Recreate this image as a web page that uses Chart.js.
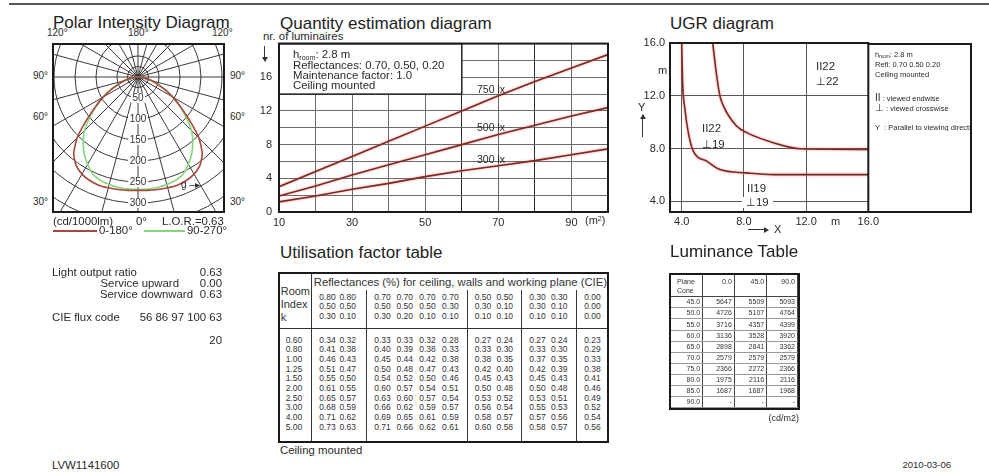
<!DOCTYPE html>
<html>
<head>
<meta charset="utf-8">
<script src="https://cdn.jsdelivr.net/npm/chart.js@4.4.0/dist/chart.umd.min.js"></script>
<style>
html, body { margin: 0; padding: 0; background: #fff; }
#page { position: relative; width: 989px; height: 472px; overflow: hidden; font-family: 'Liberation Sans', Arial, sans-serif; color: #2a2a2a; }
.t { position: absolute; white-space: nowrap; line-height: 1; }
.h { font-size: 17px; color: #222; }
.s { font-size: 11.4px; }
canvas { position: absolute; }
.box { position: absolute; box-sizing: border-box; border: 2px solid #1a1a1a; }
.ln { position: absolute; background: #333; }
sub { font-size: 0.62em; vertical-align: -0.25em; line-height: 0; }
sup { font-size: 0.62em; vertical-align: 0.5em; line-height: 0; }
table { border-collapse: collapse; table-layout: fixed; }
td { padding: 0; vertical-align: top; white-space: nowrap; overflow: hidden; color: #333; }
table.uf td { font-size: 8.5px; line-height: 9.65px; padding-left: 7px; overflow: visible; }
table.uf td.g { border-left: 1px solid #333; }
table.uf td.hv { padding-top: 2.5px; border-bottom: 1.5px solid #333; }
table.uf td.bv { padding-top: 7.2px; }
table.uf td.room { font-size: 11px; line-height: 12.7px; padding: 11.3px 0 0 0.7px; border-right: 1px solid #333; border-bottom: 1.5px solid #333; }
table.uf td.refl { font-size: 11.3px; line-height: 16px; padding-left: 1.6px; overflow: hidden; }
table.uf td.ri { text-align: right; padding: 7.2px 9px 0 0; border-right: 1px solid #333; }
table.lum td { font-size: 7px; text-align: right; padding: 0 2px 0 0; border-right: 1px solid #444; border-bottom: 1px solid #999; vertical-align: middle; line-height: 8px; }
table.lum tr.hd td { vertical-align: top; padding-top: 3.5px; border-bottom: 1px solid #444; }
table.lum td.pc { text-align: left; padding-left: 6px; line-height: 8.7px; }
</style>
</head>
<body>
<div id="page">
  <div class="ln" style="left:9px;top:3px;width:980px;height:1.6px;background:#555"></div>

  <!-- Polar Intensity Diagram -->
  <div class="t h" style="left:53px;top:14px">Polar Intensity Diagram</div>
  <div class="t" style="left:47px;top:28px;font-size:10px">120°</div>
  <div class="t" style="left:128px;top:28px;font-size:10px">180°</div>
  <div class="t" style="left:212px;top:28px;font-size:10px">120°</div>
  <div class="t" style="left:33px;top:71px;font-size:10px">90°</div>
  <div class="t" style="left:33px;top:112px;font-size:10px">60°</div>
  <div class="t" style="left:33px;top:197px;font-size:10px">30°</div>
  <div class="t" style="left:230px;top:71px;font-size:10px">90°</div>
  <div class="t" style="left:230px;top:112px;font-size:10px">60°</div>
  <div class="t" style="left:230px;top:197px;font-size:10px">30°</div>
  <div style="position:absolute;left:52px;top:43px;width:173px;height:170px;overflow:hidden">
    <canvas id="polar" width="336" height="336" style="left:-82px;top:-134px"></canvas>
    <div class="t" style="left:129px;top:137px;font-size:10px">g ‒▸</div>
  </div>
  <div class="box" style="left:52px;top:43px;width:173px;height:170px"></div>
  <div class="t" style="left:53px;top:215.5px;font-size:11.4px">(cd/1000lm)</div>
  <div class="t" style="left:136px;top:215.5px;font-size:11.4px">0°</div>
  <div class="t" style="left:162px;top:215.5px;font-size:11.4px">L.O.R.=0.63</div>
  <div class="ln" style="left:53px;top:230px;width:44px;height:1.6px;background:#a8473c"></div>
  <div class="t" style="left:99px;top:225px;font-size:11.4px">0-180°</div>
  <div class="ln" style="left:144px;top:230px;width:41px;height:1.6px;background:#86d47e"></div>
  <div class="t" style="left:187px;top:225px;font-size:11.4px">90-270°</div>

  <!-- Quantity estimation diagram -->
  <div class="t h" style="left:280px;top:15px">Quantity estimation diagram</div>
  <div class="t" style="left:263px;top:30.5px;font-size:11.4px">nr. of luminaires</div>
  <div class="ln" style="left:264px;top:46px;width:1px;height:12px"></div>
  <div style="position:absolute;left:261.5px;top:57px;width:0;height:0;border-left:3px solid transparent;border-right:3px solid transparent;border-top:5px solid #333"></div>
  <canvas id="qty" width="360" height="200" style="left:255px;top:30px"></canvas>
  <div class="t" style="left:293px;top:49px;font-size:11.4px">h<sub>room</sub>: 2.8 m</div>
  <div class="t" style="left:293px;top:59.5px;font-size:11.4px">Reflectances: 0.70, 0.50, 0.20</div>
  <div class="t" style="left:293px;top:69.5px;font-size:11.4px">Maintenance factor: 1.0</div>
  <div class="t" style="left:293px;top:80px;font-size:11.4px">Ceiling mounted</div>
  <div class="t" style="left:477px;top:83.5px;font-size:10.5px">750 lx</div>
  <div class="t" style="left:477px;top:122px;font-size:10.5px">500 lx</div>
  <div class="t" style="left:477px;top:154px;font-size:10.5px">300 lx</div>
  <div class="t" style="left:585px;top:215px;font-size:11px">(m<sup>2</sup>)</div>

  <!-- UGR diagram -->
  <div class="t h" style="left:670px;top:14.5px">UGR diagram</div>
  <canvas id="ugr" width="260" height="200" style="left:630px;top:30px"></canvas>
  <div class="t" style="left:658px;top:64.5px;font-size:11px">m</div>
  <div class="t" style="left:638px;top:101.5px;font-size:11px">Y</div>
  <div style="position:absolute;left:639.5px;top:114px;width:0;height:0;border-left:3px solid transparent;border-right:3px solid transparent;border-bottom:5px solid #333"></div>
  <div class="ln" style="left:642px;top:118px;width:1px;height:19px"></div>
  <div class="t" style="left:831px;top:215.5px;font-size:11px">m</div>
  <div class="ln" style="left:748px;top:229px;width:17px;height:1px"></div>
  <div style="position:absolute;left:764px;top:226.5px;width:0;height:0;border-top:3px solid transparent;border-bottom:3px solid transparent;border-left:5px solid #333"></div>
  <div class="t" style="left:774px;top:223.5px;font-size:11px">X</div>
  <div class="t" style="left:816px;top:61px;font-size:11.4px">II22</div>
  <div class="t" style="left:816px;top:76px;font-size:11.4px">⊥22</div>
  <div class="t" style="left:702px;top:122.5px;font-size:11.4px">II22</div>
  <div class="t" style="left:702px;top:138.5px;font-size:11.4px">⊥19</div>
  <div class="t" style="left:747px;top:182.5px;font-size:11.4px">II19</div>
  <div class="t" style="left:742px;top:196.5px;font-size:11.4px;background:#fff;padding:0 4px">⊥19</div>
  <div class="box" style="left:867px;top:42.5px;width:105px;height:170px;border-left:none"></div>
  <div class="t" style="left:875px;top:51px;font-size:7.5px">h<sub>room</sub>: 2.8 m</div>
  <div class="t" style="left:875px;top:60.5px;font-size:7.5px">Refl: 0.70 0.50 0.20</div>
  <div class="t" style="left:875px;top:70.5px;font-size:7.5px">Ceiling mounted</div>
  <div class="t" style="left:875px;top:93px;font-size:7.5px"><span style="font-size:10px">II</span> : viewed endwise</div>
  <div class="t" style="left:875px;top:103px;font-size:7.5px"><span style="font-size:10px">⊥</span> : viewed crosswise</div>
  <div class="t" style="left:875px;top:123.5px;font-size:7.5px;width:95px;overflow:hidden">Y&nbsp; : Parallel to viewing direction</div>

  <!-- Utilisation factor table -->
  <div class="t h" style="left:280px;top:244px">Utilisation factor table</div>
  <div class="box" id="ufBox" style="left:278px;top:272px;width:331px;height:171px"></div>
  <div class="t" style="left:280px;top:445px;font-size:11.4px">Ceiling mounted</div>

  <!-- Luminance Table -->
  <div class="t h" style="left:670px;top:243px">Luminance Table</div>
  <div class="box" id="lumBox" style="left:669px;top:272.5px;width:130.5px;height:137.5px"></div>
  <div class="t" style="right:190px;top:413.5px;font-size:9px">(cd/m2)</div>

  <!-- left summary -->
  <div id="summary"></div>
  <div class="t s" style="left:52px;top:459.5px">LVW1141600</div>
  <div class="t" style="right:38px;top:460px;font-size:9.5px">2010-03-06</div>
</div>

<script>
// ---------- data ----------
// polar intensity (cd/1000lm), gamma 0..90 in 5 degree steps
const polarGamma = [0, 5, 10, 15, 20, 25, 30, 35, 40, 45, 50, 55, 60, 65, 70, 75, 80, 85, 90];
const polarC0 = [270, 271, 272, 273, 274, 272, 267, 257, 238, 205, 160, 124, 96, 71, 49, 34, 21, 10, 3];
const polarC90 = [268, 268, 267, 265, 262, 255, 240, 223, 203, 180, 150, 120, 94, 70, 50, 34, 21, 10, 3];
const polarRings = [0, 25, 50, 100, 150, 200, 250, 300, 350, 400];
const polarTickValues = [50, 100, 150, 200, 250, 300];

// quantity estimation
const qtyArea = [10, 20, 30, 40, 50, 60, 70, 80, 90, 100];
const qty750 = [3.0, 4.8, 6.6, 8.4, 10.2, 12.0, 13.8, 15.5, 17.1, 18.7];
const qty500 = [1.9, 3.1, 4.4, 5.6, 6.8, 8.0, 9.2, 10.3, 11.4, 12.4];
const qty300 = [1.2, 1.9, 2.7, 3.4, 4.2, 4.9, 5.5, 6.1, 6.8, 7.5];
const qtyXLabels = [10, 30, 50, 70, 90];
const qtyYLabels = [0, 4, 8, 12, 16];
const qtyInsetX = [10, 60];
const qtyInsetY = [14, 20];

// UGR curves
const ugrInnerX = [4.0, 4.06, 4.21, 4.43, 4.75, 5.61, 6.46, 8.18, 9.89, 16];
const ugrInnerY = [16.06, 13.0, 10.98, 9.2, 7.81, 7.05, 6.41, 6.16, 6.03, 6.03];
const ugrOuterX = [5.99, 6.25, 6.46, 6.68, 7.53, 8.18, 9.89, 11.61, 16];
const ugrOuterY = [16.06, 13.52, 12.0, 11.24, 9.71, 9.21, 8.45, 7.99, 7.94];
const ugrTicks = [4, 8, 12, 16];

// utilisation factor table
const ufHeading = 'Reflectances (%) for ceiling, walls and working plane (CIE)';
const ufRoomIndex = ['0.60', '0.80', '1.00', '1.25', '1.50', '2.00', '2.50', '3.00', '4.00', '5.00'];
const ufCeiling = ['0.80', '0.80', '0.70', '0.70', '0.70', '0.70', '0.50', '0.50', '0.30', '0.30', '0.00'];
const ufWalls = ['0.50', '0.50', '0.50', '0.50', '0.50', '0.30', '0.30', '0.10', '0.30', '0.10', '0.00'];
const ufPlane = ['0.30', '0.10', '0.30', '0.20', '0.10', '0.10', '0.10', '0.10', '0.10', '0.10', '0.00'];
const ufGroupStart = [0, 2, 6, 8, 10];
const ufRows = [
  ['0.34', '0.32', '0.33', '0.33', '0.32', '0.28', '0.27', '0.24', '0.27', '0.24', '0.23'],
  ['0.41', '0.38', '0.40', '0.39', '0.38', '0.33', '0.33', '0.30', '0.33', '0.30', '0.29'],
  ['0.46', '0.43', '0.45', '0.44', '0.42', '0.38', '0.38', '0.35', '0.37', '0.35', '0.33'],
  ['0.51', '0.47', '0.50', '0.48', '0.47', '0.43', '0.42', '0.40', '0.42', '0.39', '0.38'],
  ['0.55', '0.50', '0.54', '0.52', '0.50', '0.46', '0.45', '0.43', '0.45', '0.43', '0.41'],
  ['0.61', '0.55', '0.60', '0.57', '0.54', '0.51', '0.50', '0.48', '0.50', '0.48', '0.46'],
  ['0.65', '0.57', '0.63', '0.60', '0.57', '0.54', '0.53', '0.52', '0.53', '0.51', '0.49'],
  ['0.68', '0.59', '0.66', '0.62', '0.59', '0.57', '0.56', '0.54', '0.55', '0.53', '0.52'],
  ['0.71', '0.62', '0.69', '0.65', '0.61', '0.59', '0.58', '0.57', '0.57', '0.56', '0.54'],
  ['0.73', '0.63', '0.71', '0.66', '0.62', '0.61', '0.60', '0.58', '0.58', '0.57', '0.56']
];

// luminance table
const lumPlanes = ['0.0', '45.0', '90.0'];
const lumCones = ['45.0', '50.0', '55.0', '60.0', '65.0', '70.0', '75.0', '80.0', '85.0', '90.0'];
const lumRows = [
  ['5647', '5509', '5093'], ['4726', '5107', '4764'], ['3716', '4357', '4399'],
  ['3136', '3528', '3920'], ['2898', '2841', '3362'], ['2579', '2579', '2579'],
  ['2366', '2272', '2366'], ['1975', '2116', '2116'], ['1687', '1687', '1968'], ['-', '-', '-']
];

// summary
const lorLabels = ['Light output ratio', 'Service upward', 'Service downward'];
const lorValues = ['0.63', '0.00', '0.63'];
const cieFluxCode = '56 86 97 100 63';
const spacingValue = '20';

// ---------- chart defaults ----------
Chart.defaults.font.family = "'Liberation Sans', Arial, sans-serif";
Chart.defaults.color = '#2a2a2a';
Chart.defaults.animation = false;
Chart.defaults.plugins.legend.display = false;
Chart.defaults.plugins.tooltip.enabled = false;

const frame = {
  id: 'frame',
  afterDraw(chart) {
    const a = chart.chartArea, c = chart.ctx;
    c.save();
    c.strokeStyle = '#1a1a1a';
    c.lineWidth = 2;
    c.strokeRect(a.left, a.top, a.right - a.left, a.bottom - a.top);
    c.restore();
  }
};

const glow = {
  id: 'glow',
  beforeDatasetsDraw(chart) {
    chart.ctx.save();
    chart.ctx.shadowColor = 'rgba(235,110,110,0.8)';
    chart.ctx.shadowBlur = 2.5;
  },
  afterDatasetsDraw(chart) {
    chart.ctx.restore();
  }
};

// ---------- polar ----------
const polarLabels = [];
const polarDataC0 = [];
const polarDataC90 = [];
for (let i = 0; i < 72; i++) {
  const a = i * 5;
  polarLabels.push(String(a));
  let k = null;
  if (a <= 90) k = polarGamma.indexOf(a);
  else if (a >= 270) k = polarGamma.indexOf(360 - a);
  polarDataC0.push(k === null ? null : polarC0[k]);
  polarDataC90.push(k === null ? null : polarC90[k]);
}

const polarTicks = {
  id: 'polarTicks',
  beforeDatasetsDraw(chart) {
    const s = chart.scales.r, c = chart.ctx;
    c.save();
    c.font = "10px 'Liberation Sans', Arial, sans-serif";
    c.textAlign = 'center';
    c.textBaseline = 'middle';
    polarTickValues.forEach(v => {
      const p = s.getPointPositionForValue(0, v);
      const w = c.measureText(String(v)).width;
      c.fillStyle = '#fff';
      c.fillRect(p.x - w / 2 - 1.5, p.y - 5, w + 3, 10);
      c.fillStyle = '#333';
      c.fillText(String(v), p.x, p.y);
    });
    c.restore();
  }
};

new Chart(document.getElementById('polar'), {
  type: 'radar',
  data: {
    labels: polarLabels,
    datasets: [
      { label: '0-180°', data: polarDataC0, borderColor: '#a8473c', spanGaps: true },
      { label: '90-270°', data: polarDataC90, borderColor: '#86d47e', spanGaps: true }
    ]
  },
  options: {
    responsive: false,
    layout: { padding: 0 },
    elements: {
      point: { radius: 0 },
      line: { tension: 0.2, borderWidth: 1.6, fill: false }
    },
    scales: {
      r: {
        min: 0,
        max: 400,
        startAngle: 180,
        afterBuildTicks: s => { s.ticks = polarRings.map(v => ({ value: v })); },
        ticks: { display: false },
        grid: { circular: true, color: '#3a3a3a', lineWidth: 1 },
        angleLines: { color: c => (c.index % 3 === 0 ? '#3a3a3a' : 'rgba(0,0,0,0)'), lineWidth: 1 },
        pointLabels: { display: false }
      }
    }
  },
  plugins: [polarTicks]
});

// ---------- quantity ----------
const qtyInset = {
  id: 'qtyInset',
  beforeDatasetsDraw(chart) {
    const { ctx, scales: { x, y } } = chart;
    const l = x.getPixelForValue(qtyInsetX[0]), r = x.getPixelForValue(qtyInsetX[1]);
    const t = y.getPixelForValue(qtyInsetY[1]), b = y.getPixelForValue(qtyInsetY[0]);
    ctx.save();
    ctx.fillStyle = '#fff';
    ctx.fillRect(l, t, r - l, b - t);
    ctx.strokeStyle = '#222';
    ctx.lineWidth = 1.5;
    ctx.strokeRect(l, t, r - l, b - t);
    ctx.restore();
  }
};

const qtyLine = (vals) => ({
  data: qtyArea.map((a, i) => ({ x: a, y: vals[i] })),
  borderColor: '#7a2a24',
  borderWidth: 1.6,
  pointRadius: 0,
  tension: 0
});

new Chart(document.getElementById('qty'), {
  type: 'line',
  data: { datasets: [qtyLine(qty750), qtyLine(qty500), qtyLine(qty300)] },
  options: {
    responsive: false,
    layout: { padding: { top: 13, right: 7, left: 0, bottom: 0 } },
    scales: {
      x: {
        type: 'linear', min: 10, max: 100,
        ticks: { stepSize: 10, autoSkip: false, maxRotation: 0, padding: 4, font: { size: 11 },
          callback: v => (qtyXLabels.includes(v) ? String(v) : '') },
        grid: { drawTicks: false, color: c => (c.tick && (c.tick.value === 60 || c.tick.value === 80) ? '#2a2a2a' : '#6a6a6a') },
        border: { display: false },
        afterFit: s => { s.height = 18; }
      },
      y: {
        min: 0, max: 20,
        ticks: { stepSize: 2, padding: 7, font: { size: 11 },
          callback: v => (qtyYLabels.includes(v) ? String(v) : '') },
        grid: { drawTicks: false, color: '#6a6a6a' },
        border: { display: false },
        afterFit: s => { s.width = 24; }
      }
    }
  },
  plugins: [qtyInset, glow, frame]
});

// ---------- UGR ----------
const ugrLine = (xs, ys) => ({
  data: xs.map((x, i) => ({ x: x, y: ys[i] })),
  borderColor: '#7a2a24',
  borderWidth: 1.6,
  pointRadius: 0,
  cubicInterpolationMode: 'monotone'
});

new Chart(document.getElementById('ugr'), {
  type: 'line',
  data: { datasets: [ugrLine(ugrInnerX, ugrInnerY), ugrLine(ugrOuterX, ugrOuterY)] },
  options: {
    responsive: false,
    layout: { padding: { top: 13, right: 21.7, left: 0, bottom: 0 } },
    scales: {
      x: {
        type: 'linear', min: 3.25, max: 16,
        afterBuildTicks: s => { s.ticks = ugrTicks.map(v => ({ value: v })); },
        ticks: { padding: 3, maxRotation: 0, autoSkip: false, font: { size: 11 }, callback: v => v.toFixed(1) },
        grid: { drawTicks: false, color: '#555' },
        border: { display: false },
        afterFit: s => { s.height = 18; }
      },
      y: {
        min: 3.2, max: 16,
        afterBuildTicks: s => { s.ticks = ugrTicks.map(v => ({ value: v })); },
        ticks: { padding: 5, autoSkip: false, font: { size: 11 }, callback: v => v.toFixed(1) },
        grid: { drawTicks: false, color: '#555' },
        border: { display: false },
        afterFit: s => { s.width = 40; }
      }
    }
  },
  plugins: [glow, frame]
});

// ---------- tables ----------
const ufColW = [20.7, 34.3, 22.8, 22.8, 22.8, 32.2, 22.3, 32.1, 22.4, 32.6, 30.3];
let uf = '<table class="uf" style="width:327px"><colgroup><col style="width:31.7px">' +
  ufColW.map(w => `<col style="width:${w}px">`).join('') + '</colgroup>';
uf += `<tr style="height:16px"><td class="room" rowspan="2">Room<br>Index<br>k</td><td class="refl" colspan="11">${ufHeading}</td></tr>`;
uf += '<tr style="height:38px">' + ufCeiling.map((v, j) =>
  `<td class="hv${ufGroupStart.includes(j) ? ' g' : ''}">${v}<br>${ufWalls[j]}<br>${ufPlane[j]}</td>`).join('') + '</tr>';
uf += '<tr style="height:113px"><td class="ri">' + ufRoomIndex.join('<br>') + '</td>' + ufColW.map((w, j) =>
  `<td class="bv${ufGroupStart.includes(j) ? ' g' : ''}">${ufRows.map(r => r[j]).join('<br>')}</td>`).join('') + '</tr>';
uf += '</table>';
document.getElementById('ufBox').innerHTML = uf;

let lum = '<table class="lum" style="width:126.5px"><colgroup><col style="width:31.7px"><col style="width:31.6px"><col style="width:32.4px"><col style="width:30.8px"></colgroup>';
lum += '<tr class="hd" style="height:22.2px"><td class="pc">Plane<br>Cone</td>' + lumPlanes.map(p => `<td>${p}</td>`).join('') + '</tr>';
lum += lumCones.map((c, i) => `<tr style="height:11.13px"><td>${c}</td>` + lumRows[i].map(v => `<td>${v}</td>`).join('') + '</tr>').join('');
lum += '</table>';
document.getElementById('lumBox').innerHTML = lum;

// ---------- summary block ----------
const sum = [
  `<div class="t s" style="left:52px;top:266.5px">${lorLabels[0]}</div>`,
  `<div class="t s" style="right:767px;top:266.5px">${lorValues[0]}</div>`,
  `<div class="t s" style="right:810px;top:278px">${lorLabels[1]}</div>`,
  `<div class="t s" style="right:767px;top:278px">${lorValues[1]}</div>`,
  `<div class="t s" style="right:796px;top:288.5px">${lorLabels[2]}</div>`,
  `<div class="t s" style="right:767px;top:288.5px">${lorValues[2]}</div>`,
  `<div class="t s" style="left:52px;top:312px">CIE flux code</div>`,
  `<div class="t s" style="right:767px;top:312px">${cieFluxCode}</div>`,
  `<div class="t s" style="right:767px;top:335px">${spacingValue}</div>`
];
document.getElementById('summary').innerHTML = sum.join('');
</script>
</body>
</html>
